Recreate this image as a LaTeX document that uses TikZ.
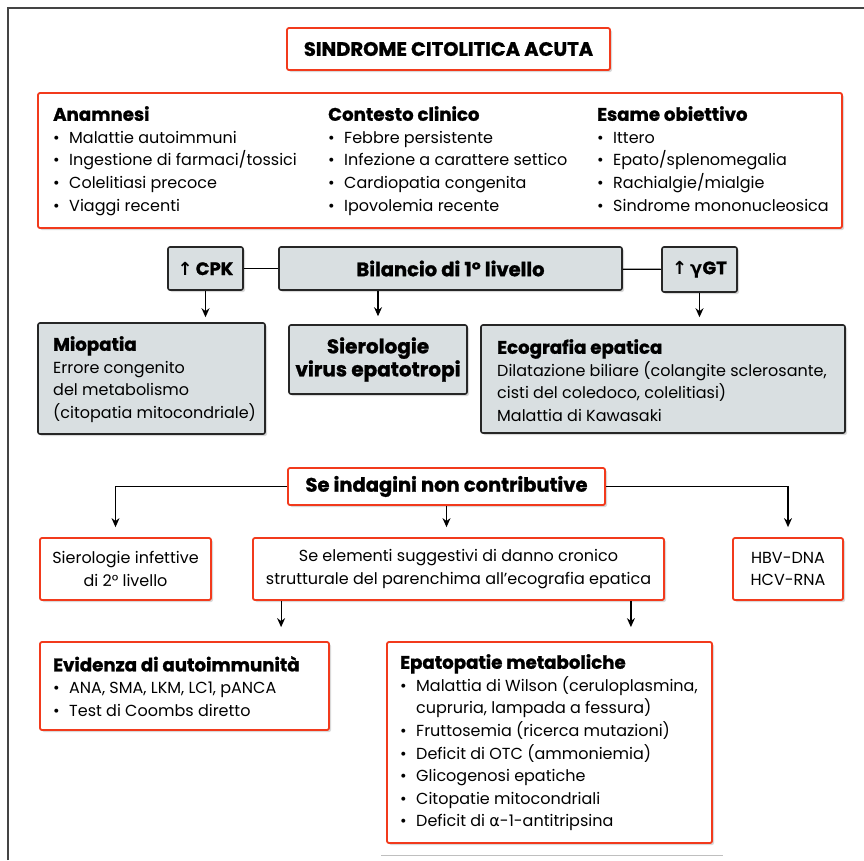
\documentclass[tikz,border=0pt]{standalone}
\usepackage{fontspec}
\setmainfont{Poppins}[BoldFeatures={FakeBold=1.2}]
\newfontfamily\symfont{DejaVu Sans}
\usetikzlibrary{positioning,arrows.meta,shadows}

\definecolor{boxred}{HTML}{F23A1C}
\definecolor{boxgray}{HTML}{D9DFE1}
\definecolor{framegray}{HTML}{444444}

\newcommand{\bul}{\makebox[16pt][l]{•}}
\newcommand{\cont}{\hspace*{16pt}}
\newcommand{\freccia}{{\symfont\bfseries ↑}}
\newcommand{\greco}[1]{{\symfont #1}}
\newcommand{\intest}[1]{{\fontsize{18.2}{22.6}\selectfont\bfseries #1}}

\begin{document}
\begin{tikzpicture}[x=1pt, y=-1pt, font=\fontsize{16}{22.6}\selectfont,
	redbox/.style = {draw=boxred, line width=1.8pt, rounded corners=2pt, fill=white,
		drop shadow={shadow xshift=2pt, shadow yshift=-2pt, opacity=0.3}},
	graybox/.style = {draw=black!85, line width=1.6pt, rounded corners=2pt, fill=boxgray,
		drop shadow={shadow xshift=2pt, shadow yshift=-2pt, opacity=0.3}},
	coltext/.style = {align=left, inner sep=0pt, anchor=north west},
	bold/.style = {font=\fontsize{#1}{23}\selectfont\bfseries},
	bold/.default = 19.5,
	link/.style = {line width=1.2pt},
	arr/.style = {-{Stealth[length=9pt, width=8pt]}, line width=1.2pt}]
	\useasboundingbox (0,0) rectangle (864,860);
	% cornice
	\draw[framegray, line width=2pt] (8,860) -- (8,8) -- (864,8);
	\draw[black!25, line width=1pt] (381,855) -- (723,855);

	% titolo e quadro iniziale
	\node[redbox, minimum width=323pt, minimum height=42pt, bold] (titolo) at (448.5,49) {SINDROME CITOLITICA ACUTA};
	\node[redbox, minimum width=804pt, minimum height=135pt] (quadro) at (440,160.5) {};
	\node[coltext] (anamnesi) at (53,106) {\intest{Anamnesi}\\ \bul Malattie autoimmuni\\ \bul Ingestione di farmaci/tossici\\ \bul Colelitiasi precoce\\ \bul Viaggi recenti};
	\node[coltext] (contesto) at (328,106) {\intest{Contesto clinico}\\ \bul Febbre persistente\\ \bul Infezione a carattere settico\\ \bul Cardiopatia congenita\\ \bul Ipovolemia recente};
	\node[coltext] (esame) at (597,106) {\intest{Esame obiettivo}\\ \bul Ittero\\ \bul Epato/splenomegalia\\ \bul Rachialgie/mialgie\\ \bul Sindrome mononucleosica};

	% bilancio di primo livello
	\node[graybox, minimum width=75pt, minimum height=43pt, bold=18] (cpk) at (205.5,268.5) {\freccia\,CPK};
	\node[graybox, minimum width=343pt, minimum height=43pt, bold] (bilancio) at (450.5,268.5) {Bilancio di 1° livello};
	\node[graybox, minimum width=75pt, minimum height=45pt, bold=18] (ggt) at (699.5,269.5) {\freccia\,\greco{γ}GT};
	\draw[link] (cpk) -- (bilancio);
	\draw[link] (bilancio) -- (ggt);

	\node[graybox, minimum width=227pt, minimum height=111pt] (miopatia) at (151.5,378.5) {};
	\node[coltext] (miopatiatxt) at (53,336) {\intest{Miopatia}\\ Errore congenito\\ del metabolismo\\ (citopatia mitocondriale)};
	\node[graybox, minimum width=178pt, minimum height=69pt, align=center, bold=20] (sierologie) at (378,359.5) {Sierologie\\ virus epatotropi};
	\node[graybox, minimum width=364pt, minimum height=108pt] (ecografia) at (663,379) {};
	\node[coltext] (ecografiatxt) at (497,339) {\intest{Ecografia epatica}\\ Dilatazione biliare (colangite sclerosante,\\ cisti del coledoco, colelitiasi)\\ Malattia di Kawasaki};
	\draw[arr, shorten >=5pt] (cpk.south) -- (cpk.south |- miopatia.north);
	\draw[arr, shorten >=8pt] (bilancio.south -| sierologie.north) -- (sierologie.north);
	\draw[arr, shorten >=7pt] (ggt.south) -- (ggt.south |- ecografia.north);

	% indagini di secondo livello
	\node[redbox, minimum width=317pt, minimum height=37pt, bold] (indagini) at (446.5,486.5) {Se indagini non contributive};
	\node[redbox, minimum width=171pt, minimum height=62pt, align=center] (infettive) at (125.5,569) {Sierologie infettive\\ di 2° livello};
	\node[redbox, minimum width=411pt, minimum height=62pt, align=center] (elementi) at (458.5,569) {Se elementi suggestivi di danno cronico\\ strutturale del parenchima all’ecografia epatica};
	\node[redbox, minimum width=110pt, minimum height=62pt, align=center] (hbv) at (788,569) {HBV-DNA\\ HCV-RNA};
	\draw[arr, shorten >=10pt] (indagini.west) -| ([xshift=-10pt]infettive.north);
	\draw[arr, shorten >=10pt] (indagini.south) -- (indagini.south |- elementi.north);
	\draw[arr, shorten >=10pt] (indagini.east) -| (hbv.north);

	% approfondimenti
	\node[redbox, minimum width=289pt, minimum height=88pt] (evidenza) at (184.5,686) {};
	\node[coltext] (evidenzatxt) at (53,656) {\intest{Evidenza di autoimmunità}\\ \bul ANA, SMA, LKM, LC1, pANCA\\ \bul Test di Coombs diretto};
	\node[redbox, minimum width=325pt, minimum height=201pt] (epatopatie) at (549.5,742.5) {};
	\node[coltext] (epatopatietxt) at (400,654) {\intest{Epatopatie metaboliche}\\ \bul Malattia di Wilson (ceruloplasmina,\\ \cont cupruria, lampada a fessura)\\ \bul Fruttosemia (ricerca mutazioni)\\ \bul Deficit di OTC (ammoniemia)\\ \bul Glicogenosi epatiche\\ \bul Citopatie mitocondriali\\ \bul Deficit di \greco{α}-1-antitripsina};
	\draw[arr, shorten >=14pt] ([xshift=29pt]elementi.south west) -- ([xshift=29pt]elementi.south west |- evidenza.north);
	\draw[arr, shorten >=14pt] ([xshift=-34pt]elementi.south east) -- ([xshift=-34pt]elementi.south east |- epatopatie.north);
\end{tikzpicture}
\end{document}
